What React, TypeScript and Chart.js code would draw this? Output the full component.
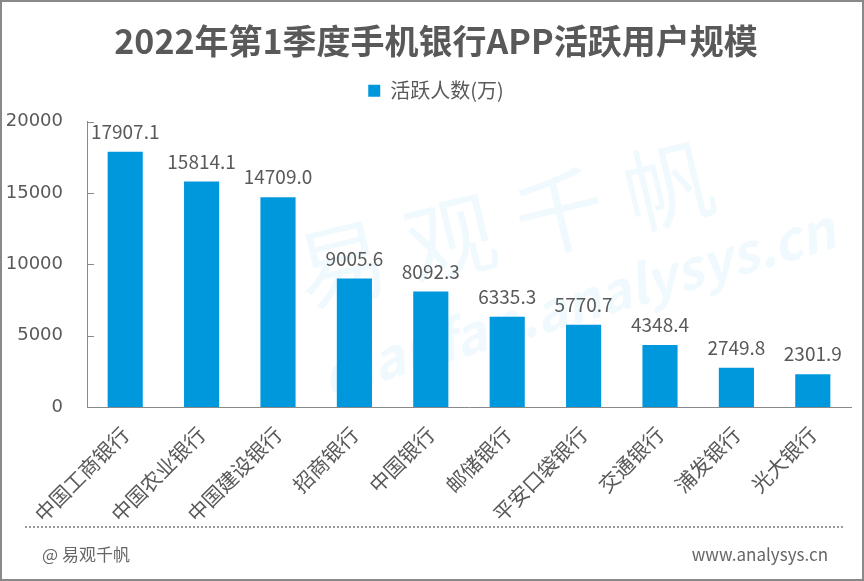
import React, { useEffect, useRef } from 'react';
import { Chart, registerables } from 'chart.js';

Chart.register(...registerables);

const TITLE = '2022年第1季度手机银行APP活跃用户规模';
const SERIES_NAME = '活跃人数(万)';
const banks = ['中国工商银行', '中国农业银行', '中国建设银行', '招商银行', '中国银行', '邮储银行', '平安口袋银行', '交通银行', '浦发银行', '光大银行'];
const activeUsers = [17907.1, 15814.1, 14709.0, 9005.6, 8092.3, 6335.3, 5770.7, 4348.4, 2749.8, 2301.9];
const Y_MIN = 0;
const Y_MAX = 20000;
const Y_STEP = 5000;
const FOOTER_LEFT = '@ 易观千帆';
const FOOTER_RIGHT = 'www.analysys.cn';
const WATERMARK_CN = '易观千帆';
const WATERMARK_EN = 'qianfan.analysys.cn';

const TEXT = '#595959';
const AXIS = '#898989';
const BAR = '#0098DD';
const CJK = '"Noto Sans CJK SC", "Noto Sans", sans-serif';

// nudge the header boxes (title, legend) to the right, as in the reference
const headerShiftPlugin = {
  id: 'headerShift',
  afterLayout(chart: any) {
    const shift = 9.5;
    [chart.titleBlock, chart.legend].forEach((b: any) => {
      if (b) {
        b.left += shift;
        b.right += shift;
      }
    });
  },
};

const watermarkPlugin = {
  id: 'watermark',
  beforeDatasetsDraw(chart: any) {
    const ctx = chart.ctx;
    ctx.save();
    ctx.fillStyle = 'rgba(0,150,220,0.06)';
    ctx.textAlign = 'center';
    ctx.textBaseline = 'middle';
    ctx.save();
    ctx.translate(503, 223);
    ctx.rotate((-13.5 * Math.PI) / 180);
    ctx.font = `normal 90px ${CJK}`;
    const chars = WATERMARK_CN.split('');
    chars.forEach((c, i) => {
      ctx.fillText(c, (i - (chars.length - 1) / 2) * 112, 0);
    });
    ctx.restore();
    ctx.save();
    ctx.translate(576, 300);
    ctx.rotate((-16.4 * Math.PI) / 180);
    ctx.font = `italic bold 54px ${CJK}`;
    ctx.fillText(WATERMARK_EN, 0, 0);
    ctx.restore();
    ctx.restore();
  },
};

const valueLabelPlugin = {
  id: 'valueLabels',
  afterDatasetsDraw(chart: any) {
    const ctx = chart.ctx;
    const meta = chart.getDatasetMeta(0);
    const values = chart.data.datasets[0].data as number[];
    ctx.save();
    ctx.fillStyle = TEXT;
    ctx.font = `normal 19px ${CJK}`;
    ctx.textAlign = 'center';
    ctx.textBaseline = 'middle';
    meta.data.forEach((bar: any, i: number) => {
      ctx.fillText(values[i].toFixed(1), bar.x, bar.y - 20);
    });
    ctx.restore();
  },
};

const innerTicksPlugin = {
  id: 'innerTicks',
  afterDraw(chart: any) {
    const ctx = chart.ctx;
    const y = chart.scales.y;
    ctx.save();
    ctx.strokeStyle = AXIS;
    ctx.lineWidth = 1;
    y.ticks.forEach((t: any) => {
      const py = Math.round(y.getPixelForValue(t.value)) + 0.5;
      ctx.beginPath();
      ctx.moveTo(y.right, py);
      ctx.lineTo(y.right + 7, py);
      ctx.stroke();
    });
    ctx.restore();
  },
};

const footerPlugin = {
  id: 'footer',
  afterDraw(chart: any) {
    const ctx = chart.ctx;
    ctx.save();
    ctx.strokeStyle = '#9a9a9a';
    ctx.lineWidth = 2;
    ctx.setLineDash([2, 2]);
    ctx.beginPath();
    ctx.moveTo(23, 525);
    ctx.lineTo(841, 525);
    ctx.stroke();
    ctx.setLineDash([]);
    ctx.fillStyle = '#666666';
    ctx.font = `normal 17px ${CJK}`;
    ctx.textBaseline = 'middle';
    ctx.textAlign = 'left';
    ctx.fillText(FOOTER_LEFT, 40, 553);
    ctx.textAlign = 'right';
    ctx.fillText(FOOTER_RIGHT, 826, 553);
    ctx.restore();
  },
};

function BankChart() {
  const ref = useRef<HTMLCanvasElement | null>(null);
  useEffect(() => {
    if (!ref.current) return;
    const chart = new Chart(ref.current, {
      type: 'bar',
      data: {
        labels: banks,
        datasets: [
          {
            label: SERIES_NAME,
            data: activeUsers,
            backgroundColor: BAR,
            borderWidth: 0,
            categoryPercentage: 1,
            barPercentage: 0.46,
          },
        ],
      },
      options: {
        responsive: false,
        animation: false,
        maintainAspectRatio: false,
        layout: { padding: { left: 0, right: 11, top: 0, bottom: 0 } },
        plugins: {
          title: {
            display: true,
            text: TITLE,
            color: TEXT,
            font: { family: CJK, size: 34, weight: 'bold', lineHeight: 1.2 },
            padding: { top: 19, bottom: 9 },
          },
          subtitle: {
            display: true,
            text: '',
            weight: 100,
            font: { size: 1, lineHeight: 1 },
            padding: { top: 0, bottom: 10 },
          } as any,
          legend: {
            display: true,
            position: 'top',
            labels: {
              color: TEXT,
              font: { family: CJK, size: 20 },
              boxWidth: 12,
              boxHeight: 12,
              padding: 10,
            },
          },
          tooltip: { enabled: false },
        },
        scales: {
          x: {
            grid: { display: false, drawTicks: false },
            border: { display: true, color: AXIS, width: 1 },
            ticks: {
              color: TEXT,
              font: { family: CJK, size: 20.5 },
              minRotation: 45,
              maxRotation: 45,
              padding: 15,
              autoSkip: false,
            },
            afterFit: (scale: any) => {
              scale.height = 172;
            },
          },
          y: {
            min: Y_MIN,
            max: Y_MAX,
            grid: { display: false, drawTicks: false },
            border: { display: true, color: AXIS, width: 1 },
            ticks: {
              stepSize: Y_STEP,
              color: TEXT,
              font: { family: '"DejaVu Sans", sans-serif', size: 18 },
              padding: 24,
              callback: (v: any) => String(v),
            },
            afterFit: (scale: any) => {
              scale.width = 85;
            },
          },
        },
      },
      plugins: [headerShiftPlugin, watermarkPlugin, valueLabelPlugin, innerTicksPlugin, footerPlugin],
    });
    return () => chart.destroy();
  }, []);
  return <canvas ref={ref} width={860} height={577} style={{ display: 'block', width: 860, height: 577 }} />;
}

export default function App() {
  useEffect(() => {
    document.body.style.margin = '0';
  }, []);
  return (
    <div
      style={{
        width: 864,
        height: 581,
        boxSizing: 'border-box',
        border: `2px solid ${AXIS}`,
        background: '#ffffff',
        overflow: 'hidden',
      }}
    >
      <BankChart />
    </div>
  );
}
